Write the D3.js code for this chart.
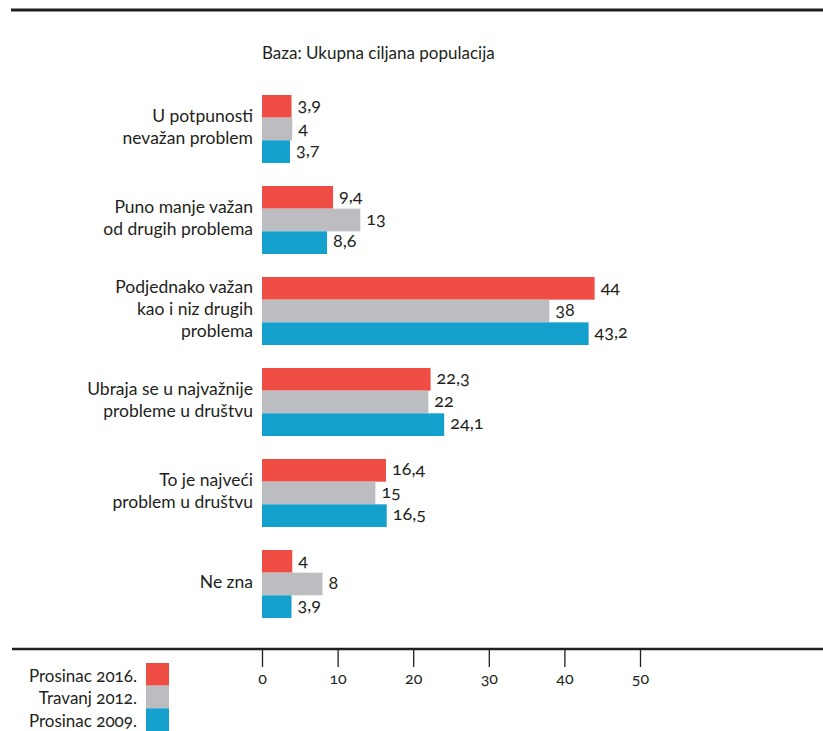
<!DOCTYPE html>
<html>
<head>
<meta charset="utf-8">
<script src="https://cdn.jsdelivr.net/npm/d3@7"></script>
<style>
  html, body { margin: 0; padding: 0; background: #fff; }
  svg text { font-family: Lato, "Open Sans", sans-serif; fill: #231f20; font-variant-numeric: oldstyle-nums; }
</style>
</head>
<body>
<svg id="chart" width="823" height="731"></svg>
<script>
// ---- data ----
const categories = [
  ["U potpunosti", "nevažan problem"],
  ["Puno manje važan", "od drugih problema"],
  ["Podjednako važan", "kao i niz drugih", "problema"],
  ["Ubraja se u najvažnije", "probleme u društvu"],
  ["To je najveći", "problem u društvu"],
  ["Ne zna"]
];
const seriesNames = ["Prosinac 2016.", "Travanj 2012.", "Prosinac 2009."];
const values2016 = [3.9, 9.4, 44, 22.3, 16.4, 4];
const values2012 = [4, 13, 38, 22, 15, 8];
const values2009 = [3.7, 8.6, 43.2, 24.1, 16.5, 3.9];
const tickValues = [0, 10, 20, 30, 40, 50];
const subtitle = "Baza: Ukupna ciljana populacija";
const colors = ["#ef4d43", "#bcbdc0", "#14a0cd"];

const seriesValues = [values2016, values2012, values2009];

const svg = d3.select("#chart");
const W = 823;

const x = d3.scaleLinear().domain([0, 50]).range([262, 640]);
const yGroup = d3.scaleBand()
  .domain(d3.range(categories.length))
  .range([95, 618])
  .paddingInner(0.2527)
  .paddingOuter(0);
const ySeries = d3.scaleBand()
  .domain(d3.range(seriesNames.length))
  .range([0, yGroup.bandwidth()])
  .padding(0);
const color = d3.scaleOrdinal().domain(d3.range(3)).range(colors);

const fmt = v => String(v).replace(".", ",");

// top rule
svg.append("line")
  .attr("x1", 11).attr("x2", W).attr("y1", 10).attr("y2", 10)
  .attr("stroke", "#231f20").attr("stroke-width", 3);

// subtitle
svg.append("text")
  .attr("x", 262).attr("y", 55)
  .attr("dominant-baseline", "middle")
  .style("font-size", "17px")
  .text(subtitle);

// groups
const groups = svg.selectAll("g.grp")
  .data(categories)
  .join("g")
  .attr("class", "grp")
  .attr("transform", (d, i) => `translate(0,${yGroup(i)})`);

groups.each(function(lines, gi) {
  const g = d3.select(this);
  const cy = yGroup.bandwidth() / 2;
  const lh = 22;
  g.selectAll("text.cat")
    .data(lines)
    .join("text")
    .attr("class", "cat")
    .attr("x", 253)
    .attr("y", (d, li) => cy + (li - (lines.length - 1) / 2) * lh)
    .attr("text-anchor", "end")
    .attr("dominant-baseline", "middle")
    .style("font-size", "17.5px")
    .text(d => d);

  const rows = seriesValues.map((vals, si) => ({ si, v: vals[gi] }));
  g.selectAll("rect")
    .data(rows)
    .join("rect")
    .attr("x", x(0))
    .attr("y", d => ySeries(d.si))
    .attr("width", d => x(d.v) - x(0))
    .attr("height", ySeries.bandwidth())
    .attr("fill", d => color(d.si));

  g.selectAll("text.val")
    .data(rows)
    .join("text")
    .attr("class", "val")
    .attr("x", d => x(d.v) + 6)
    .attr("y", d => ySeries(d.si) + ySeries.bandwidth() / 2)
    .attr("dominant-baseline", "middle")
    .style("font-size", "18px")
    .text(d => fmt(d.v));
});

// bottom axis
const axisY = 649;
svg.append("line")
  .attr("x1", 12).attr("x2", W).attr("y1", axisY).attr("y2", axisY)
  .attr("stroke", "#231f20").attr("stroke-width", 2.5);

const axis = d3.axisBottom(x).tickValues(tickValues).tickSize(18).tickPadding(6).tickFormat(d => String(d));
const ax = svg.append("g").attr("transform", `translate(0,${axisY})`).call(axis);
ax.select(".domain").remove();
ax.selectAll(".tick line").attr("stroke", "#231f20").attr("stroke-width", 1.3);
ax.selectAll(".tick text")
  .attr("y", 31).attr("dy", null)
  .attr("dominant-baseline", "middle")
  .style("font-size", "16px")
  .style("font-family", "Lato, sans-serif")
  .attr("fill", "#231f20");

// legend
const legY = d3.scaleBand().domain(d3.range(3)).range([663, 731]).padding(0);
const leg = svg.selectAll("g.leg")
  .data(seriesNames)
  .join("g")
  .attr("class", "leg")
  .attr("transform", (d, i) => `translate(0,${legY(i)})`);
leg.append("rect")
  .attr("x", 146).attr("y", 0)
  .attr("width", 23).attr("height", legY.bandwidth())
  .attr("fill", (d, i) => color(i));
leg.append("text")
  .attr("x", 137)
  .attr("y", legY.bandwidth() / 2 + 3)
  .attr("text-anchor", "end")
  .attr("dominant-baseline", "middle")
  .style("font-size", "17px")
  .text(d => d);
</script>
</body>
</html>
